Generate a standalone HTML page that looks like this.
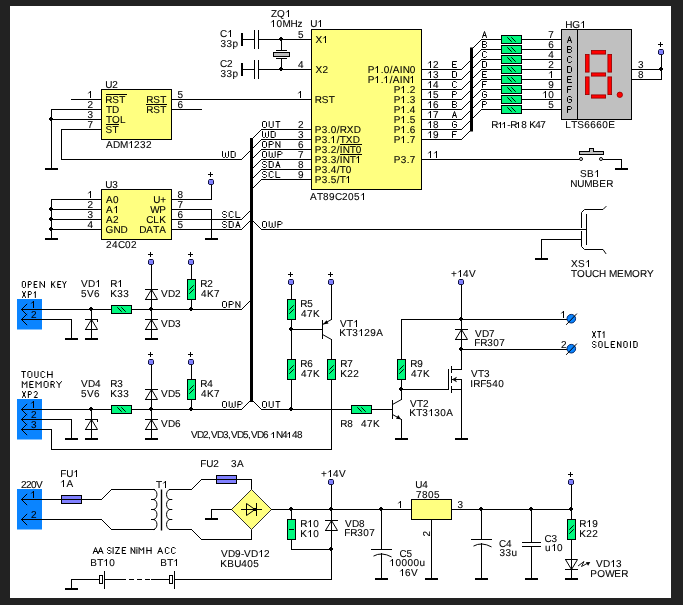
<!DOCTYPE html>
<html><head><meta charset="utf-8"><title>schematic</title>
<style>
html,body{margin:0;padding:0;background:#222;}
svg{display:block;will-change:transform}
text{font-family:"Liberation Sans",sans-serif;font-size:10.0px;fill:#000;stroke:#000;stroke-width:0.09px}
.w{stroke:#000;stroke-width:1;fill:none;shape-rendering:crispEdges;stroke-linecap:square}
.d{stroke:#000;stroke-width:1;fill:none;stroke-linecap:square}
.s{stroke:#000;stroke-width:1.0;fill:none;stroke-linecap:round;stroke-linejoin:round}
.r{fill:#00f87e;stroke:#000;stroke-width:1;shape-rendering:crispEdges}
.ic{fill:#ffff80;stroke:#000;stroke-width:1;shape-rendering:crispEdges}
</style></head><body>
<svg width="683" height="605" viewBox="0 0 683 605">
<rect x="0" y="0" width="683" height="605" fill="#222"/>
<rect x="10" y="6" width="661" height="592" fill="#fff"/>
<g transform="translate(0.5,0.5)">
<rect x="240.5" y="32.5" width="2" height="13" fill="#000"/>
<path d="M242,39 L254,39" class="w"/>
<path d="M254,30 L254,48" class="w"/>
<path d="M258,30 L258,48" class="w"/>
<path d="M258,39 L311,39" class="w"/>
<rect x="278.5" y="37.5" width="4" height="2" fill="#000" shape-rendering="crispEdges"/><rect x="279.5" y="36.5" width="2" height="4" fill="#000" shape-rendering="crispEdges"/>
<rect x="240.5" y="62.5" width="2" height="13" fill="#000"/>
<path d="M242,69 L254,69" class="w"/>
<path d="M254,60 L254,78" class="w"/>
<path d="M258,60 L258,78" class="w"/>
<path d="M258,69 L311,69" class="w"/>
<rect x="278.5" y="67.5" width="4" height="2" fill="#000" shape-rendering="crispEdges"/><rect x="279.5" y="66.5" width="2" height="4" fill="#000" shape-rendering="crispEdges"/>
<path d="M281,39 L281,50" class="w"/>
<path d="M276,50 L286,50" class="w"/>
<rect x="273" y="52" width="16" height="4" fill="#c0c0c0" stroke="#000" shape-rendering="crispEdges"/>
<path d="M276,58 L286,58" class="w"/>
<path d="M281,58 L281,69" class="w"/>
<text transform="matrix(1 0 0.003 1 219.60 36.5)" x="0 7" y="0">C </text>
<path d="M230.0,29.5 V36.5 M229.85,29.85 L227.9,31.9" stroke="#000" stroke-width="1" fill="none" stroke-linecap="butt"/>
<text transform="matrix(1 0 0.003 1 220.10 46.5)" x="0 6 12" y="0">33p</text>
<text transform="matrix(1 0 0.003 1 219.60 66.5)" x="0 7" y="0">C2</text>
<text transform="matrix(1 0 0.003 1 220.10 76.5)" x="0 6 12" y="0">33p</text>
<text transform="matrix(1 0 0.003 1 270.50 16.5)" x="0 6 14" y="0">ZQ </text>
<path d="M288.0,9.5 V16.5 M287.85,9.85 L285.9,11.9" stroke="#000" stroke-width="1" fill="none" stroke-linecap="butt"/>
<text transform="matrix(1 0 0.003 1 270.00 26.5)" x="0 6 12 20 27" y="0"> 0MHz</text>
<path d="M273.0,19.5 V26.5 M272.85,19.85 L270.9,21.9" stroke="#000" stroke-width="1" fill="none" stroke-linecap="butt"/>
<text transform="matrix(1 0 0.003 1 309.70 26.5)" x="0 7" y="0">U </text>
<path d="M320.0,19.5 V26.5 M319.85,19.85 L317.9,21.9" stroke="#000" stroke-width="1" fill="none" stroke-linecap="butt"/>
<rect x="311" y="29" width="110" height="160" class="ic"/>
<text transform="matrix(1 0 0.003 1 309.50 199.5)" x="0 7 13 19 25 32 38 44 50" y="0">AT89C205 </text>
<path d="M363.0,192.5 V199.5 M362.85,192.85 L360.9,194.9" stroke="#000" stroke-width="1" fill="none" stroke-linecap="butt"/>
<text transform="matrix(1 0 0.003 1 315.00 42.5)" x="0 7" y="0">X </text>
<path d="M325.0,35.5 V42.5 M324.85,35.85 L322.9,37.9" stroke="#000" stroke-width="1" fill="none" stroke-linecap="butt"/>
<text transform="matrix(1 0 0.003 1 315.00 72.5)" x="0 7" y="0">X2</text>
<text transform="matrix(1 0 0.003 1 314.20 102.5)" x="0 7 14" y="0">RST</text>
<text transform="matrix(1 0 0.003 1 314.20 132.5)" x="0 7 13 16 22 25 32 39" y="0">P3.0/RXD</text>
<text transform="matrix(1 0 0.003 1 314.20 142.5)" x="0 7 13 16 22 25 31 38" y="0">P3. /TXD</text>
<path d="M333.0,135.5 V142.5 M332.85,135.85 L330.9,137.9" stroke="#000" stroke-width="1" fill="none" stroke-linecap="butt"/>
<text transform="matrix(1 0 0.003 1 314.20 152.5)" x="0 7 13 16 22 25 28 35 41" y="0">P3.2/INT0</text>
<text transform="matrix(1 0 0.003 1 314.20 162.5)" x="0 7 13 16 22 25 28 35 41" y="0">P3.3/INT </text>
<path d="M358.0,155.5 V162.5 M357.85,155.85 L355.9,157.9" stroke="#000" stroke-width="1" fill="none" stroke-linecap="butt"/>
<text transform="matrix(1 0 0.003 1 314.20 172.5)" x="0 7 13 16 22 25 31" y="0">P3.4/T0</text>
<text transform="matrix(1 0 0.003 1 314.20 182.5)" x="0 7 13 16 22 25 31" y="0">P3.5/T </text>
<path d="M348.0,175.5 V182.5 M347.85,175.85 L345.9,177.9" stroke="#000" stroke-width="1" fill="none" stroke-linecap="butt"/>
<path d="M340,144 L361,144" class="w"/>
<path d="M340,154 L361,154" class="w"/>
<text transform="matrix(1 0 0.003 1 367.20 72.5)" x="0 7 13 16 22 25 32 35 42" y="0">P .0/AIN0</text>
<path d="M377.0,65.5 V72.5 M376.85,65.85 L374.9,67.9" stroke="#000" stroke-width="1" fill="none" stroke-linecap="butt"/>
<text transform="matrix(1 0 0.003 1 367.20 82.5)" x="0 7 13 16 22 25 32 35 42" y="0">P . /AIN </text>
<path d="M377.0,75.5 V82.5 M376.85,75.85 L374.9,77.9" stroke="#000" stroke-width="1" fill="none" stroke-linecap="butt"/>
<path d="M386.0,75.5 V82.5 M385.85,75.85 L383.9,77.9" stroke="#000" stroke-width="1" fill="none" stroke-linecap="butt"/>
<path d="M412.0,75.5 V82.5 M411.85,75.85 L409.9,77.9" stroke="#000" stroke-width="1" fill="none" stroke-linecap="butt"/>
<text transform="matrix(1 0 0.003 1 393.20 92.5)" x="0 7 13 16" y="0">P .2</text>
<path d="M403.0,85.5 V92.5 M402.85,85.85 L400.9,87.9" stroke="#000" stroke-width="1" fill="none" stroke-linecap="butt"/>
<text transform="matrix(1 0 0.003 1 393.20 102.5)" x="0 7 13 16" y="0">P .3</text>
<path d="M403.0,95.5 V102.5 M402.85,95.85 L400.9,97.9" stroke="#000" stroke-width="1" fill="none" stroke-linecap="butt"/>
<text transform="matrix(1 0 0.003 1 393.20 112.5)" x="0 7 13 16" y="0">P .4</text>
<path d="M403.0,105.5 V112.5 M402.85,105.85 L400.9,107.9" stroke="#000" stroke-width="1" fill="none" stroke-linecap="butt"/>
<text transform="matrix(1 0 0.003 1 393.20 122.5)" x="0 7 13 16" y="0">P .5</text>
<path d="M403.0,115.5 V122.5 M402.85,115.85 L400.9,117.9" stroke="#000" stroke-width="1" fill="none" stroke-linecap="butt"/>
<text transform="matrix(1 0 0.003 1 393.20 132.5)" x="0 7 13 16" y="0">P .6</text>
<path d="M403.0,125.5 V132.5 M402.85,125.85 L400.9,127.9" stroke="#000" stroke-width="1" fill="none" stroke-linecap="butt"/>
<text transform="matrix(1 0 0.003 1 393.20 142.5)" x="0 7 13 16" y="0">P .7</text>
<path d="M403.0,135.5 V142.5 M402.85,135.85 L400.9,137.9" stroke="#000" stroke-width="1" fill="none" stroke-linecap="butt"/>
<text transform="matrix(1 0 0.003 1 393.20 162.5)" x="0 7 13 16" y="0">P3.7</text>
<text transform="matrix(1 0 0.003 1 297.60 37.5)" x="0" y="0">5</text>
<text transform="matrix(1 0 0.003 1 297.60 67.5)" x="0" y="0">4</text>
<path d="M300.0,90.5 V97.5 M299.85,90.85 L297.9,92.9" stroke="#000" stroke-width="1" fill="none" stroke-linecap="butt"/>
<text transform="matrix(1 0 0.003 1 297.60 127.5)" x="0" y="0">2</text>
<text transform="matrix(1 0 0.003 1 297.60 137.5)" x="0" y="0">3</text>
<text transform="matrix(1 0 0.003 1 297.60 147.5)" x="0" y="0">6</text>
<text transform="matrix(1 0 0.003 1 297.60 157.5)" x="0" y="0">7</text>
<text transform="matrix(1 0 0.003 1 297.60 167.5)" x="0" y="0">8</text>
<text transform="matrix(1 0 0.003 1 297.60 177.5)" x="0" y="0">9</text>
<text transform="matrix(1 0 0.003 1 426.50 67.5)" x="0 6" y="0"> 2</text>
<path d="M430.0,60.5 V67.5 M429.85,60.85 L427.9,62.9" stroke="#000" stroke-width="1" fill="none" stroke-linecap="butt"/>
<text transform="matrix(1 0 0.003 1 426.50 77.5)" x="0 6" y="0"> 3</text>
<path d="M430.0,70.5 V77.5 M429.85,70.85 L427.9,72.9" stroke="#000" stroke-width="1" fill="none" stroke-linecap="butt"/>
<text transform="matrix(1 0 0.003 1 426.50 87.5)" x="0 6" y="0"> 4</text>
<path d="M430.0,80.5 V87.5 M429.85,80.85 L427.9,82.9" stroke="#000" stroke-width="1" fill="none" stroke-linecap="butt"/>
<text transform="matrix(1 0 0.003 1 426.50 97.5)" x="0 6" y="0"> 5</text>
<path d="M430.0,90.5 V97.5 M429.85,90.85 L427.9,92.9" stroke="#000" stroke-width="1" fill="none" stroke-linecap="butt"/>
<text transform="matrix(1 0 0.003 1 426.50 107.5)" x="0 6" y="0"> 6</text>
<path d="M430.0,100.5 V107.5 M429.85,100.85 L427.9,102.9" stroke="#000" stroke-width="1" fill="none" stroke-linecap="butt"/>
<text transform="matrix(1 0 0.003 1 426.50 117.5)" x="0 6" y="0"> 7</text>
<path d="M430.0,110.5 V117.5 M429.85,110.85 L427.9,112.9" stroke="#000" stroke-width="1" fill="none" stroke-linecap="butt"/>
<text transform="matrix(1 0 0.003 1 426.50 127.5)" x="0 6" y="0"> 8</text>
<path d="M430.0,120.5 V127.5 M429.85,120.85 L427.9,122.9" stroke="#000" stroke-width="1" fill="none" stroke-linecap="butt"/>
<text transform="matrix(1 0 0.003 1 426.50 137.5)" x="0 6" y="0"> 9</text>
<path d="M430.0,130.5 V137.5 M429.85,130.85 L427.9,132.9" stroke="#000" stroke-width="1" fill="none" stroke-linecap="butt"/>
<path d="M430.0,150.5 V157.5 M429.85,150.85 L427.9,152.9" stroke="#000" stroke-width="1" fill="none" stroke-linecap="butt"/>
<path d="M436.0,150.5 V157.5 M435.85,150.85 L433.9,152.9" stroke="#000" stroke-width="1" fill="none" stroke-linecap="butt"/>
<path d="M251,139 L261,129" class="d"/>
<path d="M261,129 L311,129" class="w"/>
<path d="M263.00,121.00 L265.00,121.00 L266.00,122.00 L266.00,126.00 L265.00,127.00 L263.00,127.00 L262.00,126.00 L262.00,122.00 Z M268.70,121.00 L268.70,126.00 L269.70,127.00 L271.70,127.00 L272.70,126.00 L272.70,121.00 M275.40,121.00 L279.40,121.00 M277.40,121.00 L277.40,127.00" class="s"/>
<path d="M251,149 L261,139" class="d"/>
<path d="M261,139 L311,139" class="w"/>
<path d="M262.00,131.00 L262.00,136.00 L263.00,137.00 L264.00,137.00 L265.00,136.00 L265.00,132.50 M265.00,136.00 L266.00,137.00 L267.00,137.00 L268.00,136.00 L268.00,131.00 M270.70,131.00 L273.70,131.00 L274.70,132.00 L274.70,136.00 L273.70,137.00 L270.70,137.00 L270.70,131.00" class="s"/>
<path d="M251,159 L261,149" class="d"/>
<path d="M261,149 L311,149" class="w"/>
<path d="M263.00,141.00 L265.00,141.00 L266.00,142.00 L266.00,146.00 L265.00,147.00 L263.00,147.00 L262.00,146.00 L262.00,142.00 Z M268.70,147.00 L268.70,141.00 L271.70,141.00 L272.70,142.00 L272.70,143.00 L271.70,144.00 L268.70,144.00 M275.40,147.00 L275.40,141.00 L279.40,147.00 L279.40,141.00" class="s"/>
<path d="M251,169 L261,159" class="d"/>
<path d="M261,159 L311,159" class="w"/>
<path d="M263.00,151.00 L265.00,151.00 L266.00,152.00 L266.00,156.00 L265.00,157.00 L263.00,157.00 L262.00,156.00 L262.00,152.00 Z M268.70,151.00 L268.70,156.00 L269.70,157.00 L270.70,157.00 L271.70,156.00 L271.70,152.50 M271.70,156.00 L272.70,157.00 L273.70,157.00 L274.70,156.00 L274.70,151.00 M277.40,157.00 L277.40,151.00 L280.40,151.00 L281.40,152.00 L281.40,153.00 L280.40,154.00 L277.40,154.00" class="s"/>
<path d="M251,179 L261,169" class="d"/>
<path d="M261,169 L311,169" class="w"/>
<path d="M266.00,162.00 L265.00,161.00 L263.00,161.00 L262.00,162.00 L262.00,163.00 L263.00,164.00 L265.00,164.00 L266.00,165.00 L266.00,166.00 L265.00,167.00 L263.00,167.00 L262.00,166.00 M268.70,161.00 L271.70,161.00 L272.70,162.00 L272.70,166.00 L271.70,167.00 L268.70,167.00 L268.70,161.00 M275.40,167.00 L277.40,161.00 L279.40,167.00 M276.20,165.00 L278.60,165.00" class="s"/>
<path d="M251,189 L261,179" class="d"/>
<path d="M261,179 L311,179" class="w"/>
<path d="M266.00,172.00 L265.00,171.00 L263.00,171.00 L262.00,172.00 L262.00,173.00 L263.00,174.00 L265.00,174.00 L266.00,175.00 L266.00,176.00 L265.00,177.00 L263.00,177.00 L262.00,176.00 M272.70,172.00 L271.70,171.00 L269.70,171.00 L268.70,172.00 L268.70,176.00 L269.70,177.00 L271.70,177.00 L272.70,176.00 M275.40,171.00 L275.40,177.00 L279.40,177.00" class="s"/>
<path d="M421,69 L461,69" class="w"/>
<path d="M461,69 L471,59" class="d"/>
<path d="M456.00,61.00 L452.00,61.00 L452.00,67.00 L456.00,67.00 M452.00,64.00 L455.00,64.00" class="s"/>
<path d="M421,79 L461,79" class="w"/>
<path d="M461,79 L471,69" class="d"/>
<path d="M452.00,71.00 L455.00,71.00 L456.00,72.00 L456.00,76.00 L455.00,77.00 L452.00,77.00 L452.00,71.00" class="s"/>
<path d="M421,89 L461,89" class="w"/>
<path d="M461,89 L471,79" class="d"/>
<path d="M456.00,82.00 L455.00,81.00 L453.00,81.00 L452.00,82.00 L452.00,86.00 L453.00,87.00 L455.00,87.00 L456.00,86.00" class="s"/>
<path d="M421,99 L461,99" class="w"/>
<path d="M461,99 L471,89" class="d"/>
<path d="M452.00,97.00 L452.00,91.00 L455.00,91.00 L456.00,92.00 L456.00,93.00 L455.00,94.00 L452.00,94.00" class="s"/>
<path d="M421,109 L461,109" class="w"/>
<path d="M461,109 L471,99" class="d"/>
<path d="M452.00,101.00 L455.00,101.00 L456.00,102.00 L456.00,103.00 L455.00,104.00 L452.00,104.00 M455.00,104.00 L456.00,105.00 L456.00,106.00 L455.00,107.00 L452.00,107.00 L452.00,101.00" class="s"/>
<path d="M421,119 L461,119" class="w"/>
<path d="M461,119 L471,109" class="d"/>
<path d="M452.00,117.00 L454.00,111.00 L456.00,117.00 M452.80,115.00 L455.20,115.00" class="s"/>
<path d="M421,129 L461,129" class="w"/>
<path d="M461,129 L471,119" class="d"/>
<path d="M456.00,122.00 L455.00,121.00 L453.00,121.00 L452.00,122.00 L452.00,126.00 L453.00,127.00 L455.00,127.00 L456.00,126.00 L456.00,124.00 L454.00,124.00" class="s"/>
<path d="M421,139 L461,139" class="w"/>
<path d="M461,139 L471,129" class="d"/>
<path d="M456.00,131.00 L452.00,131.00 L452.00,137.00 M452.00,134.00 L455.00,134.00" class="s"/>
<rect x="469.5" y="47" width="3" height="84" fill="#000"/>
<path d="M471,49 L481,39" class="d"/>
<path d="M481,39 L561,39" class="w"/>
<rect x="501" y="35" width="20" height="8" class="r"/>
<path d="M506.8,36.8 L511.2,41.2" stroke="#000" stroke-width="1" stroke-linecap="butt" fill="none"/>
<path d="M510.8,36.8 L515.2,41.2" stroke="#000" stroke-width="1" stroke-linecap="butt" fill="none"/>
<path d="M482.00,37.00 L484.00,31.00 L486.00,37.00 M482.80,35.00 L485.20,35.00" class="s"/>
<text transform="matrix(1 0 0.003 1 547.70 37.5)" x="0" y="0">7</text>
<path d="M471,59 L481,49" class="d"/>
<path d="M481,49 L561,49" class="w"/>
<rect x="501" y="45" width="20" height="8" class="r"/>
<path d="M506.8,46.8 L511.2,51.2" stroke="#000" stroke-width="1" stroke-linecap="butt" fill="none"/>
<path d="M510.8,46.8 L515.2,51.2" stroke="#000" stroke-width="1" stroke-linecap="butt" fill="none"/>
<path d="M482.00,41.00 L485.00,41.00 L486.00,42.00 L486.00,43.00 L485.00,44.00 L482.00,44.00 M485.00,44.00 L486.00,45.00 L486.00,46.00 L485.00,47.00 L482.00,47.00 L482.00,41.00" class="s"/>
<text transform="matrix(1 0 0.003 1 547.70 47.5)" x="0" y="0">6</text>
<path d="M471,69 L481,59" class="d"/>
<path d="M481,59 L561,59" class="w"/>
<rect x="501" y="55" width="20" height="8" class="r"/>
<path d="M506.8,56.8 L511.2,61.2" stroke="#000" stroke-width="1" stroke-linecap="butt" fill="none"/>
<path d="M510.8,56.8 L515.2,61.2" stroke="#000" stroke-width="1" stroke-linecap="butt" fill="none"/>
<path d="M486.00,52.00 L485.00,51.00 L483.00,51.00 L482.00,52.00 L482.00,56.00 L483.00,57.00 L485.00,57.00 L486.00,56.00" class="s"/>
<text transform="matrix(1 0 0.003 1 547.70 57.5)" x="0" y="0">4</text>
<path d="M471,79 L481,69" class="d"/>
<path d="M481,69 L561,69" class="w"/>
<rect x="501" y="65" width="20" height="8" class="r"/>
<path d="M506.8,66.8 L511.2,71.2" stroke="#000" stroke-width="1" stroke-linecap="butt" fill="none"/>
<path d="M510.8,66.8 L515.2,71.2" stroke="#000" stroke-width="1" stroke-linecap="butt" fill="none"/>
<path d="M482.00,61.00 L485.00,61.00 L486.00,62.00 L486.00,66.00 L485.00,67.00 L482.00,67.00 L482.00,61.00" class="s"/>
<text transform="matrix(1 0 0.003 1 547.70 67.5)" x="0" y="0">2</text>
<path d="M471,89 L481,79" class="d"/>
<path d="M481,79 L561,79" class="w"/>
<rect x="501" y="75" width="20" height="8" class="r"/>
<path d="M506.8,76.8 L511.2,81.2" stroke="#000" stroke-width="1" stroke-linecap="butt" fill="none"/>
<path d="M510.8,76.8 L515.2,81.2" stroke="#000" stroke-width="1" stroke-linecap="butt" fill="none"/>
<path d="M486.00,71.00 L482.00,71.00 L482.00,77.00 L486.00,77.00 M482.00,74.00 L485.00,74.00" class="s"/>
<path d="M551.0,70.5 V77.5 M550.85,70.85 L548.9,72.9" stroke="#000" stroke-width="1" fill="none" stroke-linecap="butt"/>
<path d="M471,99 L481,89" class="d"/>
<path d="M481,89 L561,89" class="w"/>
<rect x="501" y="85" width="20" height="8" class="r"/>
<path d="M506.8,86.8 L511.2,91.2" stroke="#000" stroke-width="1" stroke-linecap="butt" fill="none"/>
<path d="M510.8,86.8 L515.2,91.2" stroke="#000" stroke-width="1" stroke-linecap="butt" fill="none"/>
<path d="M486.00,81.00 L482.00,81.00 L482.00,87.00 M482.00,84.00 L485.00,84.00" class="s"/>
<text transform="matrix(1 0 0.003 1 547.70 87.5)" x="0" y="0">9</text>
<path d="M471,109 L481,99" class="d"/>
<path d="M481,99 L561,99" class="w"/>
<rect x="501" y="95" width="20" height="8" class="r"/>
<path d="M506.8,96.8 L511.2,101.2" stroke="#000" stroke-width="1" stroke-linecap="butt" fill="none"/>
<path d="M510.8,96.8 L515.2,101.2" stroke="#000" stroke-width="1" stroke-linecap="butt" fill="none"/>
<path d="M486.00,92.00 L485.00,91.00 L483.00,91.00 L482.00,92.00 L482.00,96.00 L483.00,97.00 L485.00,97.00 L486.00,96.00 L486.00,94.00 L484.00,94.00" class="s"/>
<text transform="matrix(1 0 0.003 1 541.70 97.5)" x="0 6" y="0"> 0</text>
<path d="M545.0,90.5 V97.5 M544.85,90.85 L542.9,92.9" stroke="#000" stroke-width="1" fill="none" stroke-linecap="butt"/>
<path d="M471,119 L481,109" class="d"/>
<path d="M481,109 L561,109" class="w"/>
<rect x="501" y="105" width="20" height="8" class="r"/>
<path d="M506.8,106.8 L511.2,111.2" stroke="#000" stroke-width="1" stroke-linecap="butt" fill="none"/>
<path d="M510.8,106.8 L515.2,111.2" stroke="#000" stroke-width="1" stroke-linecap="butt" fill="none"/>
<path d="M482.00,107.00 L482.00,101.00 L485.00,101.00 L486.00,102.00 L486.00,103.00 L485.00,104.00 L482.00,104.00" class="s"/>
<text transform="matrix(1 0 0.003 1 547.70 107.5)" x="0" y="0">5</text>
<text transform="matrix(1 0 0.003 1 490.70 127.5)" x="0 6 11 16 19 25 30 35 38 44 49" y="0" font-size="9">R  -R 8 K47</text>
<path d="M500.0,121.5 V127.5 M499.85,121.85 L497.9,123.9" stroke="#000" stroke-width="1" fill="none" stroke-linecap="butt"/>
<path d="M504.0,121.5 V127.5 M503.85,121.85 L501.9,123.9" stroke="#000" stroke-width="1" fill="none" stroke-linecap="butt"/>
<path d="M518.0,121.5 V127.5 M517.85,121.85 L515.9,123.9" stroke="#000" stroke-width="1" fill="none" stroke-linecap="butt"/>
<rect x="561" y="29" width="70" height="90" fill="#c0c0c0" stroke="#000"/>
<path d="M567.00,42.00 L569.00,36.00 L571.00,42.00 M567.80,40.00 L570.20,40.00" class="s"/>
<path d="M567.00,46.00 L570.00,46.00 L571.00,47.00 L571.00,48.00 L570.00,49.00 L567.00,49.00 M570.00,49.00 L571.00,50.00 L571.00,51.00 L570.00,52.00 L567.00,52.00 L567.00,46.00" class="s"/>
<path d="M571.00,57.00 L570.00,56.00 L568.00,56.00 L567.00,57.00 L567.00,61.00 L568.00,62.00 L570.00,62.00 L571.00,61.00" class="s"/>
<path d="M567.00,66.00 L570.00,66.00 L571.00,67.00 L571.00,71.00 L570.00,72.00 L567.00,72.00 L567.00,66.00" class="s"/>
<path d="M571.00,76.00 L567.00,76.00 L567.00,82.00 L571.00,82.00 M567.00,79.00 L570.00,79.00" class="s"/>
<path d="M571.00,86.00 L567.00,86.00 L567.00,92.00 M567.00,89.00 L570.00,89.00" class="s"/>
<path d="M571.00,97.00 L570.00,96.00 L568.00,96.00 L567.00,97.00 L567.00,101.00 L568.00,102.00 L570.00,102.00 L571.00,101.00 L571.00,99.00 L569.00,99.00" class="s"/>
<path d="M567.00,112.00 L567.00,106.00 L570.00,106.00 L571.00,107.00 L571.00,108.00 L570.00,109.00 L567.00,109.00" class="s"/>
<path d="M577,29 L577,119" class="w"/>
<text transform="matrix(1 0 0.003 1 564.70 27.5)" x="0 7 15" y="0">HG </text>
<path d="M583.0,20.5 V27.5 M582.85,20.85 L580.9,22.9" stroke="#000" stroke-width="1" fill="none" stroke-linecap="butt"/>
<text transform="matrix(1 0 0.003 1 564.70 127.5)" x="0 6 12 19 25 31 37 43" y="0">LTS6660E</text>
<rect x="590.9" y="49.9" width="14.2" height="3.7" fill="#ff0000" stroke="#900000" stroke-width="0.8"/>
<rect x="590.9" y="72.4" width="14.2" height="3.2" fill="#ff0000" stroke="#900000" stroke-width="0.8"/>
<rect x="590.9" y="94.4" width="14.2" height="3.2" fill="#ff0000" stroke="#900000" stroke-width="0.8"/>
<rect x="584.9" y="53.9" width="3.7" height="17.7" fill="#ff0000" stroke="#900000" stroke-width="0.8"/>
<rect x="607.4" y="53.9" width="3.7" height="17.7" fill="#ff0000" stroke="#900000" stroke-width="0.8"/>
<rect x="584.9" y="76.4" width="3.7" height="17.7" fill="#ff0000" stroke="#900000" stroke-width="0.8"/>
<rect x="607.4" y="76.4" width="3.7" height="17.7" fill="#ff0000" stroke="#900000" stroke-width="0.8"/>
<circle cx="619.3" cy="94.3" r="2.7" fill="#ff0000" stroke="#900000" stroke-width="0.8"/>
<path d="M631,69 L661,69" class="w"/>
<path d="M631,79 L661,79 L661,55" class="w"/>
<rect x="658.5" y="67.5" width="4" height="2" fill="#000" shape-rendering="crispEdges"/><rect x="659.5" y="66.5" width="2" height="4" fill="#000" shape-rendering="crispEdges"/>
<path d="M658,44 L662,44" class="w"/>
<path d="M660,42 L660,46" class="w"/>
<path d="M659.0,48.5 H662.0 L663.5,50.0 V53.0 L662.0,54.5 H659.0 L657.5,53.0 V50.0 Z" fill="#101040"/>
<rect x="658.5" y="49.5" width="4" height="4" fill="#8080ff" shape-rendering="crispEdges"/>
<text transform="matrix(1 0 0.003 1 637.60 67.5)" x="0" y="0">3</text>
<text transform="matrix(1 0 0.003 1 637.60 77.5)" x="0" y="0">8</text>
<path d="M421,159 L578,159" class="w"/>
<path d="M603,159 L621,159 L621,169" class="w"/>
<rect x="614.5" y="167.5" width="13" height="2" fill="#000"/>
<circle cx="580.5" cy="158.5" r="1.5" fill="#fff" stroke="#000"/><circle cx="600.5" cy="158.5" r="1.5" fill="#fff" stroke="#000"/>
<path d="M579,151 H589 V148 H593 V151 H603 V154 H579 Z" fill="#c0c0c0" stroke="#000" shape-rendering="crispEdges"/>
<text transform="matrix(1 0 0.003 1 579.60 176.5)" x="0 7 14" y="0">SB </text>
<path d="M597.0,169.5 V176.5 M596.85,169.85 L594.9,171.9" stroke="#000" stroke-width="1" fill="none" stroke-linecap="butt"/>
<text transform="matrix(1 0 0.003 1 569.70 186.5)" x="0 7 14 22 29 36" y="0">NUMBER</text>
<rect x="101" y="89" width="70" height="50" class="ic"/>
<text transform="matrix(1 0 0.003 1 104.70 87.5)" x="0 7" y="0">U2</text>
<text transform="matrix(1 0 0.003 1 105.50 147.5)" x="0 7 14 22 28 34 40" y="0">ADM 232</text>
<path d="M131.0,140.5 V147.5 M130.85,140.85 L128.9,142.9" stroke="#000" stroke-width="1" fill="none" stroke-linecap="butt"/>
<text transform="matrix(1 0 0.003 1 104.70 102.5)" x="0 7 14" y="0">RST</text>
<text transform="matrix(1 0 0.003 1 105.50 112.5)" x="0 6" y="0">TD</text>
<text transform="matrix(1 0 0.003 1 105.50 122.5)" x="0 6 14" y="0">TOL</text>
<text transform="matrix(1 0 0.003 1 105.10 132.5)" x="0 7" y="0">ST</text>
<text transform="matrix(1 0 0.003 1 145.70 102.5)" x="0 7 14" y="0">RST</text>
<text transform="matrix(1 0 0.003 1 145.70 112.5)" x="0 7 14" y="0">RST</text>
<path d="M106,94 L126,94" class="w"/>
<path d="M146,104 L166,104" class="w"/>
<path d="M106,124 L118,124" class="w"/>
<path d="M71,99 L101,99" class="w"/>
<path d="M51,109 L101,109" class="w"/>
<path d="M51,119 L101,119" class="w"/>
<path d="M61,129 L101,129" class="w"/>
<path d="M51,109 L51,169" class="w"/>
<rect x="44.5" y="167.5" width="13" height="2" fill="#000"/>
<rect x="48.5" y="117.5" width="4" height="2" fill="#000" shape-rendering="crispEdges"/><rect x="49.5" y="116.5" width="2" height="4" fill="#000" shape-rendering="crispEdges"/>
<path d="M61,129 L61,159 L241,159" class="w"/>
<path d="M241,159 L251,149" class="d"/>
<path d="M222.00,151.00 L222.00,156.00 L223.00,157.00 L224.00,157.00 L225.00,156.00 L225.00,152.50 M225.00,156.00 L226.00,157.00 L227.00,157.00 L228.00,156.00 L228.00,151.00 M230.70,151.00 L233.70,151.00 L234.70,152.00 L234.70,156.00 L233.70,157.00 L230.70,157.00 L230.70,151.00" class="s"/>
<path d="M90.0,90.5 V97.5 M89.85,90.85 L87.9,92.9" stroke="#000" stroke-width="1" fill="none" stroke-linecap="butt"/>
<text transform="matrix(1 0 0.003 1 87.10 107.5)" x="0" y="0">2</text>
<text transform="matrix(1 0 0.003 1 87.10 117.5)" x="0" y="0">3</text>
<text transform="matrix(1 0 0.003 1 87.10 127.5)" x="0" y="0">7</text>
<text transform="matrix(1 0 0.003 1 177.10 97.5)" x="0" y="0">5</text>
<text transform="matrix(1 0 0.003 1 177.10 107.5)" x="0" y="0">6</text>
<path d="M171,99 L311,99" class="w"/>
<path d="M171,109 L201,109" class="w"/>
<rect x="101" y="189" width="70" height="50" class="ic"/>
<text transform="matrix(1 0 0.003 1 104.70 187.5)" x="0 7" y="0">U3</text>
<text transform="matrix(1 0 0.003 1 105.60 247.5)" x="0 6 12 19 25" y="0">24C02</text>
<text transform="matrix(1 0 0.003 1 105.50 202.5)" x="0 7" y="0">A0</text>
<text transform="matrix(1 0 0.003 1 105.50 212.5)" x="0 7" y="0">A </text>
<path d="M116.0,205.5 V212.5 M115.85,205.85 L113.9,207.9" stroke="#000" stroke-width="1" fill="none" stroke-linecap="butt"/>
<text transform="matrix(1 0 0.003 1 105.50 222.5)" x="0 7" y="0">A2</text>
<text transform="matrix(1 0 0.003 1 105.10 232.5)" x="0 8 15" y="0">GND</text>
<text transform="matrix(1 0 0.003 1 152.70 202.5)" x="0 7" y="0">U+</text>
<text transform="matrix(1 0 0.003 1 149.70 212.5)" x="0 9" y="0">WP</text>
<text transform="matrix(1 0 0.003 1 145.70 222.5)" x="0 7 13" y="0">CLK</text>
<text transform="matrix(1 0 0.003 1 138.70 232.5)" x="0 7 14 20" y="0">DATA</text>
<path d="M90.0,190.5 V197.5 M89.85,190.85 L87.9,192.9" stroke="#000" stroke-width="1" fill="none" stroke-linecap="butt"/>
<path d="M51,199 L101,199" class="w"/>
<text transform="matrix(1 0 0.003 1 87.10 207.5)" x="0" y="0">2</text>
<path d="M51,209 L101,209" class="w"/>
<text transform="matrix(1 0 0.003 1 87.10 217.5)" x="0" y="0">3</text>
<path d="M51,219 L101,219" class="w"/>
<text transform="matrix(1 0 0.003 1 87.10 227.5)" x="0" y="0">4</text>
<path d="M51,229 L101,229" class="w"/>
<path d="M51,199 L51,239" class="w"/>
<rect x="44.5" y="237.5" width="13" height="2" fill="#000"/>
<rect x="48.5" y="207.5" width="4" height="2" fill="#000" shape-rendering="crispEdges"/><rect x="49.5" y="206.5" width="2" height="4" fill="#000" shape-rendering="crispEdges"/>
<rect x="48.5" y="217.5" width="4" height="2" fill="#000" shape-rendering="crispEdges"/><rect x="49.5" y="216.5" width="2" height="4" fill="#000" shape-rendering="crispEdges"/>
<rect x="48.5" y="227.5" width="4" height="2" fill="#000" shape-rendering="crispEdges"/><rect x="49.5" y="226.5" width="2" height="4" fill="#000" shape-rendering="crispEdges"/>
<text transform="matrix(1 0 0.003 1 177.10 197.5)" x="0" y="0">8</text>
<text transform="matrix(1 0 0.003 1 177.10 207.5)" x="0" y="0">7</text>
<text transform="matrix(1 0 0.003 1 177.10 217.5)" x="0" y="0">6</text>
<text transform="matrix(1 0 0.003 1 177.10 227.5)" x="0" y="0">5</text>
<path d="M171,199 L211,199 L211,185" class="w"/>
<path d="M208,174 L212,174" class="w"/>
<path d="M210,172 L210,176" class="w"/>
<path d="M209.0,178.5 H212.0 L213.5,180.0 V183.0 L212.0,184.5 H209.0 L207.5,183.0 V180.0 Z" fill="#101040"/>
<rect x="208.5" y="179.5" width="4" height="4" fill="#8080ff" shape-rendering="crispEdges"/>
<path d="M171,209 L211,209 L211,239" class="w"/>
<rect x="204.5" y="237.5" width="13" height="2" fill="#000"/>
<path d="M171,219 L241,219" class="w"/>
<path d="M241,219 L251,209" class="d"/>
<path d="M226.00,212.00 L225.00,211.00 L223.00,211.00 L222.00,212.00 L222.00,213.00 L223.00,214.00 L225.00,214.00 L226.00,215.00 L226.00,216.00 L225.00,217.00 L223.00,217.00 L222.00,216.00 M232.70,212.00 L231.70,211.00 L229.70,211.00 L228.70,212.00 L228.70,216.00 L229.70,217.00 L231.70,217.00 L232.70,216.00 M235.40,211.00 L235.40,217.00 L239.40,217.00" class="s"/>
<path d="M171,229 L241,229" class="w"/>
<path d="M241,229 L251,219" class="d"/>
<path d="M226.00,222.00 L225.00,221.00 L223.00,221.00 L222.00,222.00 L222.00,223.00 L223.00,224.00 L225.00,224.00 L226.00,225.00 L226.00,226.00 L225.00,227.00 L223.00,227.00 L222.00,226.00 M228.70,221.00 L231.70,221.00 L232.70,222.00 L232.70,226.00 L231.70,227.00 L228.70,227.00 L228.70,221.00 M235.40,227.00 L237.40,221.00 L239.40,227.00 M236.20,225.00 L238.60,225.00" class="s"/>
<path d="M251,219 L261,229" class="d"/>
<path d="M261,229 L586,229" class="w"/>
<path d="M263.00,221.00 L265.00,221.00 L266.00,222.00 L266.00,226.00 L265.00,227.00 L263.00,227.00 L262.00,226.00 L262.00,222.00 Z M268.70,221.00 L268.70,226.00 L269.70,227.00 L270.70,227.00 L271.70,226.00 L271.70,222.50 M271.70,226.00 L272.70,227.00 L273.70,227.00 L274.70,226.00 L274.70,221.00 M277.40,227.00 L277.40,221.00 L280.40,221.00 L281.40,222.00 L281.40,223.00 L280.40,224.00 L277.40,224.00" class="s"/>
<rect x="249.5" y="137.5" width="3" height="264" fill="#000"/>
<rect x="16.5" y="298.5" width="25" height="30.5" fill="#0a84ff"/>
<path d="M26.3,303.7 L21,309 L26.3,314.3" class="d"/>
<path d="M33.0,300.5 V307.5 M32.85,300.85 L30.9,302.9" stroke="#000" stroke-width="1" fill="none" stroke-linecap="butt"/>
<path d="M26.3,313.7 L21,319 L26.3,324.3" class="d"/>
<text transform="matrix(1 0 0.003 1 30.60 317.5)" x="0" y="0">2</text>
<path d="M21,309 L111,309" class="w"/>
<rect x="111" y="305" width="20" height="8" class="r"/>
<path d="M116.8,306.8 L121.2,311.2" stroke="#000" stroke-width="1" stroke-linecap="butt" fill="none"/>
<path d="M120.8,306.8 L125.2,311.2" stroke="#000" stroke-width="1" stroke-linecap="butt" fill="none"/>
<path d="M131,309 L241,309" class="w"/>
<path d="M241,309 L251,299" class="d"/>
<path d="M21,319 L71,319 L71,339" class="w"/>
<rect x="64.5" y="337.5" width="13" height="2" fill="#000"/>
<rect x="88.5" y="307.5" width="4" height="2" fill="#000" shape-rendering="crispEdges"/><rect x="89.5" y="306.5" width="2" height="4" fill="#000" shape-rendering="crispEdges"/>
<path d="M91,309 L91,339" class="w"/>
<rect x="84.5" y="337.5" width="13" height="2" fill="#000"/>
<path d="M85,319 L97,319" class="w"/>
<path d="M97,319 L97,321" class="w"/>
<path d="M85,329 L97,329 L91,319 L85,329" class="d"/>
<path d="M148,254 L152,254" class="w"/>
<path d="M150,252 L150,256" class="w"/>
<path d="M149.0,258.5 H152.0 L153.5,260.0 V263.0 L152.0,264.5 H149.0 L147.5,263.0 V260.0 Z" fill="#101040"/>
<rect x="148.5" y="259.5" width="4" height="4" fill="#8080ff" shape-rendering="crispEdges"/>
<path d="M151,265 L151,339" class="w"/>
<rect x="144.5" y="337.5" width="13" height="2" fill="#000"/>
<path d="M145,289 L157,289" class="w"/>
<path d="M145,299 L157,299 L151,289 L145,299" class="d"/>
<path d="M145,319 L157,319" class="w"/>
<path d="M145,329 L157,329 L151,319 L145,329" class="d"/>
<rect x="148.5" y="307.5" width="4" height="2" fill="#000" shape-rendering="crispEdges"/><rect x="149.5" y="306.5" width="2" height="4" fill="#000" shape-rendering="crispEdges"/>
<path d="M188,254 L192,254" class="w"/>
<path d="M190,252 L190,256" class="w"/>
<path d="M189.0,258.5 H192.0 L193.5,260.0 V263.0 L192.0,264.5 H189.0 L187.5,263.0 V260.0 Z" fill="#101040"/>
<rect x="188.5" y="259.5" width="4" height="4" fill="#8080ff" shape-rendering="crispEdges"/>
<path d="M191,265 L191,279" class="w"/>
<rect x="187" y="279" width="8" height="20" class="r"/>
<path d="M188.8,289.2 L193.2,284.8" stroke="#000" stroke-width="1" stroke-linecap="butt" fill="none"/>
<path d="M188.8,293.2 L193.2,288.8" stroke="#000" stroke-width="1" stroke-linecap="butt" fill="none"/>
<path d="M191,299 L191,309" class="w"/>
<rect x="188.5" y="307.5" width="4" height="2" fill="#000" shape-rendering="crispEdges"/><rect x="189.5" y="306.5" width="2" height="4" fill="#000" shape-rendering="crispEdges"/>
<text transform="matrix(1 0 0.003 1 80.50 286.5)" x="0 7 14" y="0">VD </text>
<path d="M98.0,279.5 V286.5 M97.85,279.85 L95.9,281.9" stroke="#000" stroke-width="1" fill="none" stroke-linecap="butt"/>
<text transform="matrix(1 0 0.003 1 80.60 296.5)" x="0 6 13" y="0">5V6</text>
<text transform="matrix(1 0 0.003 1 109.70 286.5)" x="0 7" y="0">R </text>
<path d="M120.0,279.5 V286.5 M119.85,279.85 L117.9,281.9" stroke="#000" stroke-width="1" fill="none" stroke-linecap="butt"/>
<text transform="matrix(1 0 0.003 1 109.70 296.5)" x="0 7 13" y="0">K33</text>
<text transform="matrix(1 0 0.003 1 160.50 296.5)" x="0 7 14" y="0">VD2</text>
<text transform="matrix(1 0 0.003 1 160.50 326.5)" x="0 7 14" y="0">VD3</text>
<text transform="matrix(1 0 0.003 1 199.70 286.5)" x="0 7" y="0">R2</text>
<text transform="matrix(1 0 0.003 1 200.60 296.5)" x="0 6 13" y="0">4K7</text>
<rect x="16.5" y="398.5" width="25" height="40.5" fill="#0a84ff"/>
<path d="M26.3,403.7 L21,409 L26.3,414.3" class="d"/>
<path d="M33.0,400.5 V407.5 M32.85,400.85 L30.9,402.9" stroke="#000" stroke-width="1" fill="none" stroke-linecap="butt"/>
<path d="M26.3,413.7 L21,419 L26.3,424.3" class="d"/>
<text transform="matrix(1 0 0.003 1 30.60 417.5)" x="0" y="0">2</text>
<path d="M26.3,423.7 L21,429 L26.3,434.3" class="d"/>
<text transform="matrix(1 0 0.003 1 30.60 427.5)" x="0" y="0">3</text>
<path d="M21,409 L111,409" class="w"/>
<rect x="111" y="405" width="20" height="8" class="r"/>
<path d="M116.8,406.8 L121.2,411.2" stroke="#000" stroke-width="1" stroke-linecap="butt" fill="none"/>
<path d="M120.8,406.8 L125.2,411.2" stroke="#000" stroke-width="1" stroke-linecap="butt" fill="none"/>
<path d="M131,409 L241,409" class="w"/>
<path d="M241,409 L251,399" class="d"/>
<path d="M21,419 L71,419 L71,439" class="w"/>
<rect x="64.5" y="437.5" width="13" height="2" fill="#000"/>
<rect x="88.5" y="407.5" width="4" height="2" fill="#000" shape-rendering="crispEdges"/><rect x="89.5" y="406.5" width="2" height="4" fill="#000" shape-rendering="crispEdges"/>
<path d="M91,409 L91,439" class="w"/>
<rect x="84.5" y="437.5" width="13" height="2" fill="#000"/>
<path d="M85,419 L97,419" class="w"/>
<path d="M97,419 L97,421" class="w"/>
<path d="M85,429 L97,429 L91,419 L85,429" class="d"/>
<path d="M148,354 L152,354" class="w"/>
<path d="M150,352 L150,356" class="w"/>
<path d="M149.0,358.5 H152.0 L153.5,360.0 V363.0 L152.0,364.5 H149.0 L147.5,363.0 V360.0 Z" fill="#101040"/>
<rect x="148.5" y="359.5" width="4" height="4" fill="#8080ff" shape-rendering="crispEdges"/>
<path d="M151,365 L151,439" class="w"/>
<rect x="144.5" y="437.5" width="13" height="2" fill="#000"/>
<path d="M145,389 L157,389" class="w"/>
<path d="M145,399 L157,399 L151,389 L145,399" class="d"/>
<path d="M145,419 L157,419" class="w"/>
<path d="M145,429 L157,429 L151,419 L145,429" class="d"/>
<rect x="148.5" y="407.5" width="4" height="2" fill="#000" shape-rendering="crispEdges"/><rect x="149.5" y="406.5" width="2" height="4" fill="#000" shape-rendering="crispEdges"/>
<path d="M188,354 L192,354" class="w"/>
<path d="M190,352 L190,356" class="w"/>
<path d="M189.0,358.5 H192.0 L193.5,360.0 V363.0 L192.0,364.5 H189.0 L187.5,363.0 V360.0 Z" fill="#101040"/>
<rect x="188.5" y="359.5" width="4" height="4" fill="#8080ff" shape-rendering="crispEdges"/>
<path d="M191,365 L191,379" class="w"/>
<rect x="187" y="379" width="8" height="20" class="r"/>
<path d="M188.8,389.2 L193.2,384.8" stroke="#000" stroke-width="1" stroke-linecap="butt" fill="none"/>
<path d="M188.8,393.2 L193.2,388.8" stroke="#000" stroke-width="1" stroke-linecap="butt" fill="none"/>
<path d="M191,399 L191,409" class="w"/>
<rect x="188.5" y="407.5" width="4" height="2" fill="#000" shape-rendering="crispEdges"/><rect x="189.5" y="406.5" width="2" height="4" fill="#000" shape-rendering="crispEdges"/>
<text transform="matrix(1 0 0.003 1 80.50 386.5)" x="0 7 14" y="0">VD4</text>
<text transform="matrix(1 0 0.003 1 80.60 396.5)" x="0 6 13" y="0">5V6</text>
<text transform="matrix(1 0 0.003 1 109.70 386.5)" x="0 7" y="0">R3</text>
<text transform="matrix(1 0 0.003 1 109.70 396.5)" x="0 7 13" y="0">K33</text>
<text transform="matrix(1 0 0.003 1 160.50 396.5)" x="0 7 14" y="0">VD5</text>
<text transform="matrix(1 0 0.003 1 160.50 426.5)" x="0 7 14" y="0">VD6</text>
<text transform="matrix(1 0 0.003 1 199.70 386.5)" x="0 7" y="0">R4</text>
<text transform="matrix(1 0 0.003 1 200.60 396.5)" x="0 6 13" y="0">4K7</text>
<path d="M22.60,281.00 L24.20,281.00 L25.00,282.00 L25.00,286.00 L24.20,287.00 L22.60,287.00 L21.80,286.00 L21.80,282.00 Z M27.80,287.00 L27.80,281.00 L30.05,281.00 L30.80,282.00 L30.80,283.00 L30.05,284.00 L27.80,284.00 M36.50,281.00 L33.70,281.00 L33.70,287.00 L36.50,287.00 M33.70,284.00 L35.80,284.00 M39.50,287.00 L39.50,281.00 L44.00,287.00 L44.00,281.00 M51.10,281.00 L51.10,287.00 M54.40,281.00 L51.10,285.00 M52.34,283.50 L54.40,287.00 M60.30,281.00 L57.30,281.00 L57.30,287.00 L60.30,287.00 M57.30,284.00 L59.55,284.00 M62.20,281.00 L63.90,284.00 L65.60,281.00 M63.90,284.00 L63.90,287.00" class="s"/>
<path d="M22.00,291.00 L25.00,297.00 M25.00,291.00 L22.00,297.00 M27.85,297.00 L27.85,291.00 L30.10,291.00 L30.85,292.00 L30.85,293.00 L30.10,294.00 L27.85,294.00 M33.70,292.50 L34.83,291.00 L34.83,297.00" class="s"/>
<path d="M21.20,371.00 L25.00,371.00 M23.10,371.00 L23.10,377.00 M28.40,371.00 L30.40,371.00 L31.40,372.00 L31.40,376.00 L30.40,377.00 L28.40,377.00 L27.40,376.00 L27.40,372.00 Z M34.30,371.00 L34.30,376.00 L35.12,377.00 L36.77,377.00 L37.60,376.00 L37.60,371.00 M44.20,372.00 L43.28,371.00 L41.42,371.00 L40.50,372.00 L40.50,376.00 L41.42,377.00 L43.28,377.00 L44.20,376.00 M47.10,371.00 L47.10,377.00 M51.60,371.00 L51.60,377.00 M47.10,374.00 L51.60,374.00" class="s"/>
<path d="M21.80,387.00 L21.80,381.00 L24.10,384.00 L26.40,381.00 L26.40,387.00 M32.70,381.00 L29.30,381.00 L29.30,387.00 L32.70,387.00 M29.30,384.00 L31.85,384.00 M35.50,387.00 L35.50,381.00 L38.05,384.00 L40.60,381.00 L40.60,387.00 M44.60,381.00 L46.60,381.00 L47.60,382.00 L47.60,386.00 L46.60,387.00 L44.60,387.00 L43.60,386.00 L43.60,382.00 Z M50.50,387.00 L50.50,381.00 L52.97,381.00 L53.80,382.00 L53.80,383.00 L52.97,384.00 L50.50,384.00 M52.15,384.00 L53.80,387.00 M56.10,381.00 L58.55,384.00 L61.00,381.00 M58.55,384.00 L58.55,387.00" class="s"/>
<path d="M22.00,391.00 L25.00,397.00 M25.00,391.00 L22.00,397.00 M27.85,397.00 L27.85,391.00 L30.10,391.00 L30.85,392.00 L30.85,393.00 L30.10,394.00 L27.85,394.00 M33.70,392.00 L34.45,391.00 L35.95,391.00 L36.70,392.00 L36.70,393.50 L33.70,397.00 L36.70,397.00" class="s"/>
<path d="M223.00,301.00 L225.00,301.00 L226.00,302.00 L226.00,306.00 L225.00,307.00 L223.00,307.00 L222.00,306.00 L222.00,302.00 Z M228.70,307.00 L228.70,301.00 L231.70,301.00 L232.70,302.00 L232.70,303.00 L231.70,304.00 L228.70,304.00 M235.40,307.00 L235.40,301.00 L239.40,307.00 L239.40,301.00" class="s"/>
<path d="M223.00,401.00 L225.00,401.00 L226.00,402.00 L226.00,406.00 L225.00,407.00 L223.00,407.00 L222.00,406.00 L222.00,402.00 Z M228.70,401.00 L228.70,406.00 L229.70,407.00 L230.70,407.00 L231.70,406.00 L231.70,402.50 M231.70,406.00 L232.70,407.00 L233.70,407.00 L234.70,406.00 L234.70,401.00 M237.40,407.00 L237.40,401.00 L240.40,401.00 L241.40,402.00 L241.40,403.00 L240.40,404.00 L237.40,404.00" class="s"/>
<path d="M21,429 L51,429 L51,449 L331,449 L331,379" class="w"/>
<path d="M251,399 L261,409" class="d"/>
<path d="M261,409 L351,409" class="w"/>
<path d="M263.00,401.00 L265.00,401.00 L266.00,402.00 L266.00,406.00 L265.00,407.00 L263.00,407.00 L262.00,406.00 L262.00,402.00 Z M268.70,401.00 L268.70,406.00 L269.70,407.00 L271.70,407.00 L272.70,406.00 L272.70,401.00 M275.40,401.00 L279.40,401.00 M277.40,401.00 L277.40,407.00" class="s"/>
<text transform="matrix(1 0 0.003 1 190.50 437.5)" x="0 6 12 17 20 26 32 37 40 46 52 57 60 66 72 77 80 85 91 96 101 106" y="0" font-size="9">VD2,VD3,VD5,VD6  N4 48</text>
<path d="M273.0,431.5 V437.5 M272.85,431.85 L270.9,433.9" stroke="#000" stroke-width="1" fill="none" stroke-linecap="butt"/>
<path d="M289.0,431.5 V437.5 M288.85,431.85 L286.9,433.9" stroke="#000" stroke-width="1" fill="none" stroke-linecap="butt"/>
<path d="M288,274 L292,274" class="w"/>
<path d="M290,272 L290,276" class="w"/>
<path d="M289.0,278.5 H292.0 L293.5,280.0 V283.0 L292.0,284.5 H289.0 L287.5,283.0 V280.0 Z" fill="#101040"/>
<rect x="288.5" y="279.5" width="4" height="4" fill="#8080ff" shape-rendering="crispEdges"/>
<path d="M291,285 L291,299" class="w"/>
<rect x="287" y="299" width="8" height="20" class="r"/>
<path d="M288.8,309.2 L293.2,304.8" stroke="#000" stroke-width="1" stroke-linecap="butt" fill="none"/>
<path d="M288.8,313.2 L293.2,308.8" stroke="#000" stroke-width="1" stroke-linecap="butt" fill="none"/>
<path d="M291,319 L291,359" class="w"/>
<rect x="287" y="359" width="8" height="20" class="r"/>
<path d="M288.8,369.2 L293.2,364.8" stroke="#000" stroke-width="1" stroke-linecap="butt" fill="none"/>
<path d="M288.8,373.2 L293.2,368.8" stroke="#000" stroke-width="1" stroke-linecap="butt" fill="none"/>
<path d="M291,379 L291,409" class="w"/>
<rect x="288.5" y="407.5" width="4" height="2" fill="#000" shape-rendering="crispEdges"/><rect x="289.5" y="406.5" width="2" height="4" fill="#000" shape-rendering="crispEdges"/>
<rect x="288.5" y="327.5" width="4" height="2" fill="#000" shape-rendering="crispEdges"/><rect x="289.5" y="326.5" width="2" height="4" fill="#000" shape-rendering="crispEdges"/>
<path d="M291,329 L322,329" class="w"/>
<path d="M322,320 L322,338" class="w"/>
<path d="M322,324 L331,319" class="d"/>
<path d="M331,319 L331,285" class="w"/>
<path d="M328,274 L332,274" class="w"/>
<path d="M330,272 L330,276" class="w"/>
<path d="M329.0,278.5 H332.0 L333.5,280.0 V283.0 L332.0,284.5 H329.0 L327.5,283.0 V280.0 Z" fill="#101040"/>
<rect x="328.5" y="279.5" width="4" height="4" fill="#8080ff" shape-rendering="crispEdges"/>
<path d="M322.5,324 L326,319.8 L328,323 Z" fill="#000"/>
<path d="M322,334 L331,339" class="d"/>
<path d="M331,339 L331,359" class="w"/>
<rect x="327" y="359" width="8" height="20" class="r"/>
<path d="M328.8,369.2 L333.2,364.8" stroke="#000" stroke-width="1" stroke-linecap="butt" fill="none"/>
<path d="M328.8,373.2 L333.2,368.8" stroke="#000" stroke-width="1" stroke-linecap="butt" fill="none"/>
<text transform="matrix(1 0 0.003 1 299.70 306.5)" x="0 7" y="0">R5</text>
<text transform="matrix(1 0 0.003 1 300.60 316.5)" x="0 6 12" y="0">47K</text>
<text transform="matrix(1 0 0.003 1 299.70 366.5)" x="0 7" y="0">R6</text>
<text transform="matrix(1 0 0.003 1 300.60 376.5)" x="0 6 12" y="0">47K</text>
<text transform="matrix(1 0 0.003 1 339.70 366.5)" x="0 7" y="0">R7</text>
<text transform="matrix(1 0 0.003 1 339.70 376.5)" x="0 7 13" y="0">K22</text>
<text transform="matrix(1 0 0.003 1 339.50 326.5)" x="0 7 13" y="0">VT </text>
<path d="M356.0,319.5 V326.5 M355.85,319.85 L353.9,321.9" stroke="#000" stroke-width="1" fill="none" stroke-linecap="butt"/>
<text transform="matrix(1 0 0.003 1 338.70 335.5)" x="0 7 13 19 25 31 37" y="0">KT3 29A</text>
<path d="M361.0,328.5 V335.5 M360.85,328.85 L358.9,330.9" stroke="#000" stroke-width="1" fill="none" stroke-linecap="butt"/>
<rect x="351" y="405" width="20" height="8" class="r"/>
<path d="M356.8,406.8 L361.2,411.2" stroke="#000" stroke-width="1" stroke-linecap="butt" fill="none"/>
<path d="M360.8,406.8 L365.2,411.2" stroke="#000" stroke-width="1" stroke-linecap="butt" fill="none"/>
<path d="M371,409 L392,409" class="w"/>
<path d="M392,400 L392,418" class="w"/>
<path d="M392,404 L401,399" class="d"/>
<path d="M401,399 L401,379" class="w"/>
<rect x="397" y="359" width="8" height="20" class="r"/>
<path d="M398.8,369.2 L403.2,364.8" stroke="#000" stroke-width="1" stroke-linecap="butt" fill="none"/>
<path d="M398.8,373.2 L403.2,368.8" stroke="#000" stroke-width="1" stroke-linecap="butt" fill="none"/>
<path d="M401,359 L401,319 L571,319" class="w"/>
<path d="M392,414 L401,419" class="d"/>
<path d="M401,419 L401,439" class="w"/>
<rect x="394.5" y="437.5" width="13" height="2" fill="#000"/>
<path d="M400.3,418.8 L395.5,418.3 L397.8,414.6 Z" fill="#000"/>
<rect x="398.5" y="387.5" width="4" height="2" fill="#000" shape-rendering="crispEdges"/><rect x="399.5" y="386.5" width="2" height="4" fill="#000" shape-rendering="crispEdges"/>
<path d="M401,389 L448,389" class="w"/>
<text transform="matrix(1 0 0.003 1 339.70 426.5)" x="0 7" y="0">R8</text>
<text transform="matrix(1 0 0.003 1 360.60 426.5)" x="0 6 12" y="0">47K</text>
<text transform="matrix(1 0 0.003 1 409.70 366.5)" x="0 7" y="0">R9</text>
<text transform="matrix(1 0 0.003 1 410.60 376.5)" x="0 6 12" y="0">47K</text>
<text transform="matrix(1 0 0.003 1 409.50 406.5)" x="0 7 13" y="0">VT2</text>
<text transform="matrix(1 0 0.003 1 408.70 415.5)" x="0 7 13 19 25 31 37" y="0">KT3 30A</text>
<path d="M431.0,408.5 V415.5 M430.85,408.85 L428.9,410.9" stroke="#000" stroke-width="1" fill="none" stroke-linecap="butt"/>
<text transform="matrix(1 0 0.003 1 450.50 276.5)" x="0 6 12 18" y="0">+ 4V</text>
<path d="M460.0,269.5 V276.5 M459.85,269.85 L457.9,271.9" stroke="#000" stroke-width="1" fill="none" stroke-linecap="butt"/>
<path d="M459.0,278.5 H462.0 L463.5,280.0 V283.0 L462.0,284.5 H459.0 L457.5,283.0 V280.0 Z" fill="#101040"/>
<rect x="458.5" y="279.5" width="4" height="4" fill="#8080ff" shape-rendering="crispEdges"/>
<path d="M461,285 L461,369 L451,369" class="w"/>
<rect x="458.5" y="317.5" width="4" height="2" fill="#000" shape-rendering="crispEdges"/><rect x="459.5" y="316.5" width="2" height="4" fill="#000" shape-rendering="crispEdges"/>
<rect x="458.5" y="347.5" width="4" height="2" fill="#000" shape-rendering="crispEdges"/><rect x="459.5" y="346.5" width="2" height="4" fill="#000" shape-rendering="crispEdges"/>
<path d="M455,329 L467,329" class="w"/>
<path d="M455,339 L467,339 L461,329 L455,339" class="d"/>
<path d="M461,349 L571,349" class="w"/>
<path d="M448,369 L448,389" class="w"/>
<path d="M451,366 L451,372" class="w"/>
<path d="M451,376 L451,382" class="w"/>
<path d="M451,386 L451,392" class="w"/>
<path d="M451,389 L461,389" class="w"/>
<path d="M451,379 L461,379 L461,439" class="w"/>
<rect x="454.5" y="437.5" width="13" height="2" fill="#000"/>
<path d="M452,379 L456,376.8 L454.5,379 L456,381.2 Z" fill="#000" stroke="#000" stroke-width="0.6"/>
<text transform="matrix(1 0 0.003 1 474.50 336.5)" x="0 7 14" y="0">VD7</text>
<text transform="matrix(1 0 0.003 1 473.70 345.5)" x="0 6 13 19 25" y="0">FR307</text>
<text transform="matrix(1 0 0.003 1 470.50 376.5)" x="0 7 13" y="0">VT3</text>
<text transform="matrix(1 0 0.003 1 469.70 386.5)" x="0 3 10 16 22 28" y="0">IRF540</text>
<circle cx="570.8" cy="318.2" r="4.3" fill="#0a84ff" stroke="#002a70"/>
<path d="M566,324 L576,313.5" class="d"/>
<path d="M563.0,310.5 V317.5 M562.85,310.85 L560.9,312.9" stroke="#000" stroke-width="1" fill="none" stroke-linecap="butt"/>
<circle cx="570.8" cy="348.2" r="4.3" fill="#0a84ff" stroke="#002a70"/>
<path d="M566,354 L576,343.5" class="d"/>
<text transform="matrix(1 0 0.003 1 560.60 347.5)" x="0" y="0">2</text>
<path d="M592.00,331.00 L595.00,337.00 M595.00,331.00 L592.00,337.00 M597.20,331.00 L600.20,331.00 M598.70,331.00 L598.70,337.00 M602.40,332.50 L603.53,331.00 L603.53,337.00" class="s"/>
<path d="M595.40,342.00 L594.55,341.00 L592.85,341.00 L592.00,342.00 L592.00,343.00 L592.85,344.00 L594.55,344.00 L595.40,345.00 L595.40,346.00 L594.55,347.00 L592.85,347.00 L592.00,346.00 M599.11,341.00 L600.81,341.00 L601.66,342.00 L601.66,346.00 L600.81,347.00 L599.11,347.00 L598.26,346.00 L598.26,342.00 Z M604.52,341.00 L604.52,347.00 L607.92,347.00 M614.18,341.00 L610.78,341.00 L610.78,347.00 L614.18,347.00 M610.78,344.00 L613.33,344.00 M617.04,347.00 L617.04,341.00 L620.44,347.00 L620.44,341.00 M624.15,341.00 L625.85,341.00 L626.70,342.00 L626.70,346.00 L625.85,347.00 L624.15,347.00 L623.30,346.00 L623.30,342.00 Z M629.98,341.00 L629.98,347.00 M633.27,341.00 L635.82,341.00 L636.67,342.00 L636.67,346.00 L635.82,347.00 L633.27,347.00 L633.27,341.00" class="s"/>
<path d="M605.5,206 L602.5,209 L584,209 L581,212 L581,227 M581,231 L581,246 L584,249 L602.5,249 L605.3,253" class="d" fill="none"/>
<path d="M586,214 L586,244" class="w"/>
<path d="M541,239 L581,239" class="w"/>
<path d="M541,239 L541,259" class="w"/>
<rect x="534.5" y="257.5" width="13" height="2" fill="#000"/>
<text transform="matrix(1 0 0.003 1 570.50 266.5)" x="0 7 14" y="0">XS </text>
<path d="M588.0,259.5 V266.5 M587.85,259.85 L585.9,261.9" stroke="#000" stroke-width="1" fill="none" stroke-linecap="butt"/>
<text transform="matrix(1 0 0.003 1 570.50 276.5)" x="0 6 14 21 28 35 38 46 53 61 69 76" y="0">TOUCH MEMORY</text>
<rect x="16.5" y="488.5" width="25" height="40.5" fill="#0a84ff"/>
<path d="M26.3,493.7 L21,499 L26.3,504.3" class="d"/>
<path d="M33.0,490.5 V497.5 M32.85,490.85 L30.9,492.9" stroke="#000" stroke-width="1" fill="none" stroke-linecap="butt"/>
<path d="M26.3,513.7 L21,519 L26.3,524.3" class="d"/>
<text transform="matrix(1 0 0.003 1 30.60 517.5)" x="0" y="0">2</text>
<text transform="matrix(1 0 0.003 1 20.60 487.5)" x="0 5 10 15" y="0" font-size="8.5">220V</text>
<path d="M21,499 L101,499" class="w"/>
<path d="M101,499 L111,489" class="d"/>
<path d="M111,489 L154,489" class="w"/>
<rect x="61" y="495" width="20" height="8" fill="#8080ff" stroke="#000"/>
<path d="M61,499 L81,499" class="w"/>
<path d="M21,519 L101,519" class="w"/>
<path d="M101,519 L111,529" class="d"/>
<path d="M111,529 L154,529" class="w"/>
<text transform="matrix(1 0 0.003 1 59.70 476.5)" x="0 6 13" y="0">FU </text>
<path d="M76.0,469.5 V476.5 M75.85,469.85 L73.9,471.9" stroke="#000" stroke-width="1" fill="none" stroke-linecap="butt"/>
<text transform="matrix(1 0 0.003 1 60.00 486.5)" x="0 6" y="0"> A</text>
<path d="M63.0,479.5 V486.5 M62.85,479.85 L60.9,481.9" stroke="#000" stroke-width="1" fill="none" stroke-linecap="butt"/>
<text transform="matrix(1 0 0.003 1 155.50 487.5)" x="0 6" y="0">T </text>
<path d="M165.0,480.5 V487.5 M164.85,480.85 L162.9,482.9" stroke="#000" stroke-width="1" fill="none" stroke-linecap="butt"/>
<path d="M153.5,489 C157.6,490 157.6,498 153.5,499 M151,499 L153.5,499 M153.5,499 C157.6,500 157.6,508 153.5,509 M151,509 L153.5,509 M153.5,509 C157.6,510 157.6,518 153.5,519 M151,519 L153.5,519 M153.5,519 C157.6,520 157.6,528 153.5,529 M169,489 C164.9,490 164.9,498 169,499 M169,499 L171.3,499 M169,499 C164.9,500 164.9,508 169,509 M169,509 L171.3,509 M169,509 C164.9,510 164.9,518 169,519 M169,519 L171.3,519 M169,519 C164.9,520 164.9,528 169,529" class="d" fill="none"/>
<rect x="160.3" y="489" width="1.4" height="41" fill="#000"/>
<path d="M169,489 L191,489" class="w"/>
<path d="M191,489 L201,479" class="d"/>
<path d="M201,479 L251,479 L251,489" class="w"/>
<rect x="216" y="475" width="20" height="8" fill="#8080ff" stroke="#000"/>
<path d="M216,479 L236,479" class="w"/>
<path d="M169,529 L191,529" class="w"/>
<path d="M191,529 L201,539" class="d"/>
<path d="M201,539 L251,539 L251,529" class="w"/>
<text transform="matrix(1 0 0.003 1 199.70 466.5)" x="0 6 13" y="0">FU2</text>
<text transform="matrix(1 0 0.003 1 230.60 466.5)" x="0 6" y="0">3A</text>
<path d="M251,489 L271,509 L251,529 L231,509 Z" fill="#ffff80" stroke="#303030"/>
<path d="M241,509 L261,509" class="w"/>
<path d="M246,503 L254.5,509 L246,515 Z" fill="none" stroke="#000"/>
<path d="M256,503 L256,515" class="w"/>
<rect x="252.5" y="507.5" width="3" height="3" fill="#000"/>
<path d="M231,509 L211,509 L211,519" class="w"/>
<rect x="204.5" y="517.5" width="13" height="2" fill="#000"/>
<text transform="matrix(1 0 0.003 1 220.50 556.5)" x="0 7 14 20 23 30 37 43" y="0">VD9-VD 2</text>
<path d="M261.0,549.5 V556.5 M260.85,549.85 L258.9,551.9" stroke="#000" stroke-width="1" fill="none" stroke-linecap="butt"/>
<text transform="matrix(1 0 0.003 1 219.70 566.5)" x="0 7 14 21 27 33" y="0">KBU405</text>
<path d="M271,509 L411,509" class="w"/>
<rect x="288.5" y="507.5" width="4" height="2" fill="#000" shape-rendering="crispEdges"/><rect x="289.5" y="506.5" width="2" height="4" fill="#000" shape-rendering="crispEdges"/>
<rect x="328.5" y="507.5" width="4" height="2" fill="#000" shape-rendering="crispEdges"/><rect x="329.5" y="506.5" width="2" height="4" fill="#000" shape-rendering="crispEdges"/>
<rect x="378.5" y="507.5" width="4" height="2" fill="#000" shape-rendering="crispEdges"/><rect x="379.5" y="506.5" width="2" height="4" fill="#000" shape-rendering="crispEdges"/>
<path d="M291,509 L291,519" class="w"/>
<rect x="287" y="519" width="8" height="20" class="r"/>
<path d="M289,529 L293,529" class="w"/>
<path d="M291,539 L291,549 L331,549" class="w"/>
<rect x="328.5" y="547.5" width="4" height="2" fill="#000" shape-rendering="crispEdges"/><rect x="329.5" y="546.5" width="2" height="4" fill="#000" shape-rendering="crispEdges"/>
<text transform="matrix(1 0 0.003 1 320.50 476.5)" x="0 6 12 18" y="0">+ 4V</text>
<path d="M330.0,469.5 V476.5 M329.85,469.85 L327.9,471.9" stroke="#000" stroke-width="1" fill="none" stroke-linecap="butt"/>
<path d="M329.0,478.5 H332.0 L333.5,480.0 V483.0 L332.0,484.5 H329.0 L327.5,483.0 V480.0 Z" fill="#101040"/>
<rect x="328.5" y="479.5" width="4" height="4" fill="#8080ff" shape-rendering="crispEdges"/>
<path d="M331,485 L331,579 L174,579" class="w"/>
<path d="M325,520 L337,520" class="w"/>
<path d="M325,530 L337,530 L331,520 L325,530" class="d"/>
<text transform="matrix(1 0 0.003 1 299.70 526.5)" x="0 7 13" y="0">R 0</text>
<path d="M310.0,519.5 V526.5 M309.85,519.85 L307.9,521.9" stroke="#000" stroke-width="1" fill="none" stroke-linecap="butt"/>
<text transform="matrix(1 0 0.003 1 299.70 536.5)" x="0 7 13" y="0">K 0</text>
<path d="M310.0,529.5 V536.5 M309.85,529.85 L307.9,531.9" stroke="#000" stroke-width="1" fill="none" stroke-linecap="butt"/>
<text transform="matrix(1 0 0.003 1 344.50 526.5)" x="0 7 14" y="0">VD8</text>
<text transform="matrix(1 0 0.003 1 343.70 535.5)" x="0 6 13 19 25" y="0">FR307</text>
<path d="M381,509 L381,549" class="w"/>
<path d="M371,549 L391,549" class="w"/>
<path d="M373,555.6 Q381,551 391,556.4" stroke="#000" stroke-width="1" fill="none"/>
<path d="M381,553 L381,579" class="w"/>
<rect x="374.5" y="577.5" width="13" height="2" fill="#000"/>
<text transform="matrix(1 0 0.003 1 399.10 556.5)" x="0 7" y="0">C5</text>
<text transform="matrix(1 0 0.003 1 389.00 565.5)" x="0 6 12 18 24 30" y="0"> 0000u</text>
<path d="M392.0,558.5 V565.5 M391.85,558.85 L389.9,560.9" stroke="#000" stroke-width="1" fill="none" stroke-linecap="butt"/>
<text transform="matrix(1 0 0.003 1 398.50 575.5)" x="0 6 12" y="0"> 6V</text>
<path d="M402.0,568.5 V575.5 M401.85,568.85 L399.9,570.9" stroke="#000" stroke-width="1" fill="none" stroke-linecap="butt"/>
<rect x="411" y="499" width="40" height="20" class="ic"/>
<text transform="matrix(1 0 0.003 1 414.70 487.5)" x="0 7" y="0">U4</text>
<text transform="matrix(1 0 0.003 1 415.60 497.5)" x="0 6 12 18" y="0">7805</text>
<path d="M400.0,500.5 V507.5 M399.85,500.85 L397.9,502.9" stroke="#000" stroke-width="1" fill="none" stroke-linecap="butt"/>
<text transform="matrix(1 0 0.003 1 457.10 507.5)" x="0" y="0">3</text>
<text transform="translate(429.6,536) rotate(-90.1)" x="0" y="0">2</text>
<path d="M431,519 L431,579" class="w"/>
<rect x="424.5" y="577.5" width="13" height="2" fill="#000"/>
<path d="M451,509 L571,509" class="w"/>
<rect x="478.5" y="507.5" width="4" height="2" fill="#000" shape-rendering="crispEdges"/><rect x="479.5" y="506.5" width="2" height="4" fill="#000" shape-rendering="crispEdges"/>
<rect x="528.5" y="507.5" width="4" height="2" fill="#000" shape-rendering="crispEdges"/><rect x="529.5" y="506.5" width="2" height="4" fill="#000" shape-rendering="crispEdges"/>
<rect x="568.5" y="507.5" width="4" height="2" fill="#000" shape-rendering="crispEdges"/><rect x="569.5" y="506.5" width="2" height="4" fill="#000" shape-rendering="crispEdges"/>
<path d="M481,509 L481,539" class="w"/>
<path d="M471,539 L491,539" class="w"/>
<path d="M473,545.6 Q481,541 491,546.4" stroke="#000" stroke-width="1" fill="none"/>
<path d="M481,543 L481,579" class="w"/>
<rect x="474.5" y="577.5" width="13" height="2" fill="#000"/>
<text transform="matrix(1 0 0.003 1 498.60 546.5)" x="0 7" y="0">C4</text>
<text transform="matrix(1 0 0.003 1 499.10 555.5)" x="0 6 12" y="0">33u</text>
<path d="M531,509 L531,542" class="w"/>
<path d="M522,542 L540,542" class="w"/>
<path d="M522,546 L540,546" class="w"/>
<path d="M531,546 L531,579" class="w"/>
<rect x="524.5" y="577.5" width="13" height="2" fill="#000"/>
<text transform="matrix(1 0 0.003 1 544.10 541.5)" x="0 7" y="0">C3</text>
<text transform="matrix(1 0 0.003 1 544.50 550.5)" x="0 6 12" y="0">u 0</text>
<path d="M554.0,543.5 V550.5 M553.85,543.85 L551.9,545.9" stroke="#000" stroke-width="1" fill="none" stroke-linecap="butt"/>
<path d="M568,474 L572,474" class="w"/>
<path d="M570,472 L570,476" class="w"/>
<path d="M569.0,478.5 H572.0 L573.5,480.0 V483.0 L572.0,484.5 H569.0 L567.5,483.0 V480.0 Z" fill="#101040"/>
<rect x="568.5" y="479.5" width="4" height="4" fill="#8080ff" shape-rendering="crispEdges"/>
<path d="M571,485 L571,519" class="w"/>
<rect x="567" y="519" width="8" height="20" class="r"/>
<path d="M568.8,529.2 L573.2,524.8" stroke="#000" stroke-width="1" stroke-linecap="butt" fill="none"/>
<path d="M568.8,533.2 L573.2,528.8" stroke="#000" stroke-width="1" stroke-linecap="butt" fill="none"/>
<path d="M571,539 L571,579" class="w"/>
<rect x="564.5" y="577.5" width="13" height="2" fill="#000"/>
<path d="M565,559 L577,559 L571,569 L565,559" class="d"/>
<path d="M565,569 L577,569" class="w"/>
<path d="M577.5,565.5 L583.5,561 L581,566 L587,562.8" stroke="#000" stroke-width="0.9" fill="none"/><path d="M589.8,561.6 L585.3,561.8 L587.6,565.2 Z" fill="#000"/>
<text transform="matrix(1 0 0.003 1 578.70 526.5)" x="0 7 13" y="0">R 9</text>
<path d="M589.0,519.5 V526.5 M588.85,519.85 L586.9,521.9" stroke="#000" stroke-width="1" fill="none" stroke-linecap="butt"/>
<text transform="matrix(1 0 0.003 1 578.70 536.5)" x="0 7 13" y="0">K22</text>
<text transform="matrix(1 0 0.003 1 595.50 566.5)" x="0 7 14 20" y="0">VD 3</text>
<path d="M613.0,559.5 V566.5 M612.85,559.85 L610.9,561.9" stroke="#000" stroke-width="1" fill="none" stroke-linecap="butt"/>
<text transform="matrix(1 0 0.003 1 589.70 576.5)" x="0 7 15 24 31" y="0">POWER</text>
<rect x="64.5" y="587.5" width="13" height="2" fill="#000"/>
<path d="M71,589 L71,579 L99,579" class="w"/>
<rect x="99" y="575" width="3" height="8" fill="#fff" stroke="#000"/>
<path d="M104,571 L104,588" class="w"/>
<path d="M104,579 L125,579" class="w"/>
<path d="M129,579 H133 M137,579 H141 M145,579 H149" class="w"/>
<path d="M151,579 L169,579" class="w"/>
<rect x="169" y="575" width="3" height="8" fill="#fff" stroke="#000"/>
<path d="M174,571 L174,588" class="w"/>
<text transform="matrix(1 0 0.003 1 89.70 565.5)" x="0 7 13 19" y="0">BT 0</text>
<path d="M106.0,558.5 V565.5 M105.85,558.85 L103.9,560.9" stroke="#000" stroke-width="1" fill="none" stroke-linecap="butt"/>
<text transform="matrix(1 0 0.003 1 159.70 565.5)" x="0 7 13" y="0">BT </text>
<path d="M176.0,558.5 V565.5 M175.85,558.85 L173.9,560.9" stroke="#000" stroke-width="1" fill="none" stroke-linecap="butt"/>
<path d="M92.70,553.00 L95.05,547.00 L97.40,553.00 M93.64,551.00 L96.46,551.00 M97.80,553.00 L100.15,547.00 L102.50,553.00 M98.74,551.00 L101.56,551.00 M110.50,548.00 L109.62,547.00 L107.88,547.00 L107.00,548.00 L107.00,549.00 L107.88,550.00 L109.62,550.00 L110.50,551.00 L110.50,552.00 L109.62,553.00 L107.88,553.00 L107.00,552.00 M112.60,547.00 L112.60,553.00 M115.00,547.00 L119.00,547.00 L115.00,553.00 L119.00,553.00 M125.20,547.00 L121.80,547.00 L121.80,553.00 L125.20,553.00 M121.80,550.00 L124.35,550.00 M130.60,553.00 L130.60,547.00 L134.30,553.00 L134.30,547.00 M136.40,549.00 L136.40,553.00 M136.40,547.00 L136.40,547.60 M138.60,553.00 L138.60,547.00 L140.90,550.00 L143.20,547.00 L143.20,553.00 M146.40,547.00 L146.40,553.00 M150.60,547.00 L150.60,553.00 M146.40,550.00 L150.60,550.00 M157.30,553.00 L159.70,547.00 L162.10,553.00 M158.26,551.00 L161.14,551.00 M168.50,548.00 L167.60,547.00 L165.80,547.00 L164.90,548.00 L164.90,552.00 L165.80,553.00 L167.60,553.00 L168.50,552.00 M174.70,548.00 L173.80,547.00 L172.00,547.00 L171.10,548.00 L171.10,552.00 L172.00,553.00 L173.80,553.00 L174.70,552.00" class="s"/>
</g>
</svg>
</body></html>
